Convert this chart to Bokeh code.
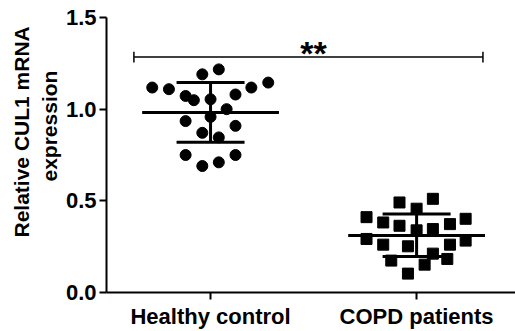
from bokeh.plotting import figure
from bokeh.models import Range1d, FixedTicker, Label, Title
from bokeh.embed import file_html
from bokeh.resources import INLINE

# ---- data ----
groups = ["Healthy control", "COPD patients"]
group_pos = [1, 2]

healthy_vals = [1.118, 1.109, 1.190, 1.217, 1.072, 1.049, 1.054, 1.080, 1.118, 1.145,
                1.000, 0.958, 0.935, 0.909, 0.871, 0.846, 0.750, 0.750, 0.690, 0.710]
healthy_dx = [-0.283, -0.202, -0.040, 0.040, -0.121, -0.081, 0.0, 0.121, 0.198, 0.280,
              0.078, 0.0, -0.121, 0.121, -0.040, 0.040, -0.121, 0.121, -0.040, 0.040]

copd_vals = [0.491, 0.511, 0.457, 0.411, 0.382, 0.364, 0.373, 0.402, 0.339, 0.346,
             0.292, 0.261, 0.252, 0.261, 0.283, 0.212, 0.183, 0.174, 0.152, 0.103]
copd_dx = [-0.083, 0.079, 0.0, -0.243, -0.162, -0.083, 0.162, 0.238, 0.0, 0.079,
           -0.243, -0.162, -0.042, 0.162, 0.238, 0.079, 0.149, -0.123, 0.039, -0.042]

group_mean = [0.982, 0.311]
group_sd_low = [0.819, 0.197]
group_sd_high = [1.145, 0.428]

y_ticks = [0.0, 0.5, 1.0, 1.5]
y_title_lines = ["Relative CUL1 mRNA", "expression"]
sig_y = 1.284
sig_text = "**"

FONT = "Liberation Sans"

p = figure(width=515, height=331, output_backend="svg", toolbar_location=None,
           x_range=Range1d(0.495, 2.48), y_range=Range1d(0, 1.5),
           min_border_left=106, min_border_right=0, min_border_top=17, min_border_bottom=38)
p.outline_line_color = None
p.xgrid.visible = False
p.ygrid.visible = False
p.background_fill_color = "white"
p.border_fill_color = "white"

# points
hx = [group_pos[0] + d for d in healthy_dx]
cx = [group_pos[1] + d for d in copd_dx]
p.scatter(hx, healthy_vals, marker="circle", size=11, fill_color="black", line_color="black")
p.scatter(cx, copd_vals, marker="square", size=11, fill_color="black", line_color="black")

# mean and SD bars
mean_hw = 0.332
cap_hw = 0.165
for xp, m, lo, hi in zip(group_pos, group_mean, group_sd_low, group_sd_high):
    p.segment(x0=[xp - mean_hw], y0=[m], x1=[xp + mean_hw], y1=[m], line_color="black", line_width=3)
    p.segment(x0=[xp], y0=[lo], x1=[xp], y1=[hi], line_color="black", line_width=3)
    p.segment(x0=[xp - cap_hw, xp - cap_hw], y0=[lo, hi], x1=[xp + cap_hw, xp + cap_hw], y1=[lo, hi],
              line_color="black", line_width=3)

# significance bracket
bx0, bx1 = 0.628, 2.322
p.segment(x0=[bx0], y0=[sig_y], x1=[bx1], y1=[sig_y], line_color="black", line_width=1.5)
p.segment(x0=[bx0, bx1], y0=[sig_y - 0.029, sig_y - 0.029], x1=[bx0, bx1], y1=[sig_y + 0.029, sig_y + 0.029],
          line_color="black", line_width=1.5)
p.add_layout(Label(x=(group_pos[0] + group_pos[1]) / 2, y=sig_y + 0.005, text=sig_text,
                   text_font=FONT, text_font_style="bold", text_font_size="34px",
                   text_align="center", text_baseline="alphabetic", text_color="black",
                   y_offset=3))

# axes
p.yaxis.ticker = FixedTicker(ticks=y_ticks)
p.yaxis.major_label_overrides = {t: f"{t:.1f}" for t in y_ticks}
p.xaxis.ticker = FixedTicker(ticks=group_pos)
p.xaxis.major_label_overrides = {gp: g for gp, g in zip(group_pos, groups)}
for ax in (p.xaxis, p.yaxis):
    ax.axis_line_width = 2
    ax.axis_line_color = "black"
    ax.major_tick_line_width = 2
    ax.major_tick_line_color = "black"
    ax.major_tick_out = 7
    ax.major_tick_in = 0
    ax.minor_tick_line_color = None
    ax.major_label_text_font = FONT
    ax.major_label_text_font_style = "bold"
    ax.major_label_text_font_size = "22px"
    ax.major_label_text_color = "black"
p.yaxis.major_label_standoff = 3
p.xaxis.major_label_standoff = 4

# y axis title (two lines), placed as side titles
for txt, off in zip(reversed(y_title_lines), (111, 55)):
    p.add_layout(Title(text=txt, align="left", offset=off, standoff=3,
                       text_font=FONT, text_font_style="bold", text_font_size="21px",
                       text_color="black"), "left")

open("out.html", "w").write(file_html(p, INLINE))
